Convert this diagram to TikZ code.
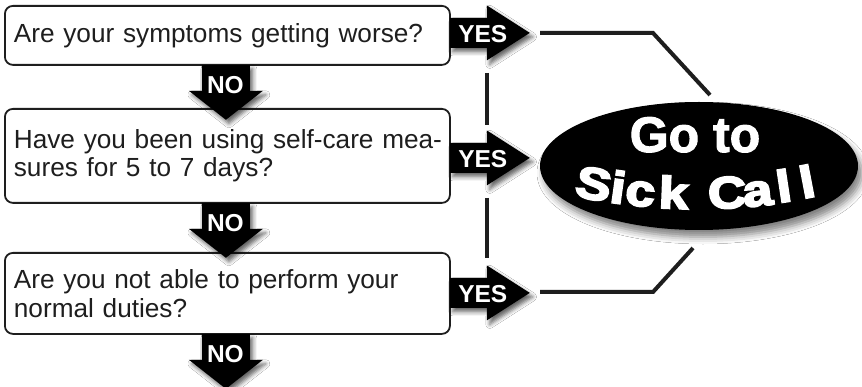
\documentclass[tikz,border=0pt]{standalone}
\usepackage{fontspec}
\setmainfont{Liberation Sans}
\newfontfamily\heavyfont[FakeBold=4]{Liberation Sans Bold}
\newfontfamily\semiheavyfont[FakeBold=2]{Liberation Sans Bold}
\usetikzlibrary{shapes.geometric,shadows.blur,calc}
\definecolor{ink}{HTML}{1E1E1E}
\begin{document}
\begin{tikzpicture}[x=1pt,y=-1pt,
  qbox/.style={draw=ink, line width=1.8pt, rounded corners=8pt, fill=white,
    anchor=north west, inner xsep=9pt, inner ysep=0pt, text width=427pt,
    align=left, font=\fontsize{26.2}{28.5}\selectfont, text=ink},
  blk/.style={fill=black, blur shadow={shadow xshift=3pt, shadow yshift=-4pt,
    shadow blur radius=4pt, shadow opacity=60}},
  lbl/.style={text=white, font=\fontsize{24.5}{24.5}\selectfont\bfseries, inner sep=0pt},
  sickch/.style={text=white, font=\heavyfont\fontsize{45}{45}\selectfont, inner sep=0pt, anchor=base},
  link/.style={draw=ink, line width=4pt}]
\useasboundingbox[fill=white] (0,0) rectangle (862,387);

% question boxes
\node[qbox, minimum height=59pt] (q1) at (4,5) {\mbox{Are your symptoms getting worse?}};
\node[qbox, minimum height=94pt] (q2) at (4,108) {\mbox{Have you been using self-care mea-}\\\mbox{sures for 5 to 7 days?}};
\node[qbox, minimum height=81pt] (q3) at (4,252) {\mbox{Are you not able to perform your}\\\mbox{normal duties?}};

% NO arrows (down)
\foreach \q/\n in {q1/n1,q2/n2,q3/n3}{
  \path[blk] ($(\q.south)+(-25.5,-1)$) -- ++(0,26) -- ++(-13,0) -- ++(37,29)
    -- ++(37,-29) -- ++(-13,0) -- ++(0,-26) -- cycle;
  \node[lbl] (\n) at ($(\q.south)+(-2,19.5)$) {NO};
}

% YES arrows (right)
\foreach \q/\y/\d in {q1/y1/-2.5,q2/y2/2,q3/y3/-0.5}{
  \path[blk] ($(\q.east)+(-1,\d-15)$) -- ++(37,0) -- ++(0,-12.5) -- ++(43,27.5)
    -- ++(-43,27.5) -- ++(0,-12.5) -- ++(-37,0) -- cycle;
  \node[lbl] (\y) at ($(\q.east)+(32,\d+1)$) {YES};
}

% vertical dashes between the YES arrows
\draw[link] (487,73) -- (487,125);
\draw[link] (487,198) -- (487,258);

% connectors to the oval
\coordinate (ta) at (540,33);
\coordinate (tb) at (653,33);
\coordinate (tc) at (710,95);
\coordinate (ba) at (540,292);
\coordinate (bb) at (653,292);
\coordinate (bc) at (693,248);
\draw[link] (ta) -- (tb) -- (tc);
\draw[link] (ba) -- (bb) -- (bc);

% oval
\node[ellipse, fill=black, minimum width=318pt, minimum height=128pt, inner sep=0pt,
  blur shadow={shadow xshift=4pt, shadow yshift=-7pt, shadow blur radius=7pt, shadow opacity=50}]
  (sick) at (699,166) {};
\node[text=white, font=\semiheavyfont\fontsize{50}{50}\selectfont, anchor=base, inner sep=0pt]
  (goto) at (695,152) {Go to};
% "Sick Call" set along a gentle arc, letter by letter
\foreach \c/\x/\yy/\r [count=\i] in {S/591/199.2/-10.4, i/616/203.2/-8.0, c/639/205.9/-5.9,
    k/673/208.5/-2.3, C/728/208.2/3.0, a/759/205.8/6.0, l/786/201.8/8.6, l/810/197.4/10.9}{
  \node[sickch, rotate=\r] (s\i) at (\x,\yy) {\scalebox{1.18}[1]{\c}};
}
\end{tikzpicture}
\end{document}
